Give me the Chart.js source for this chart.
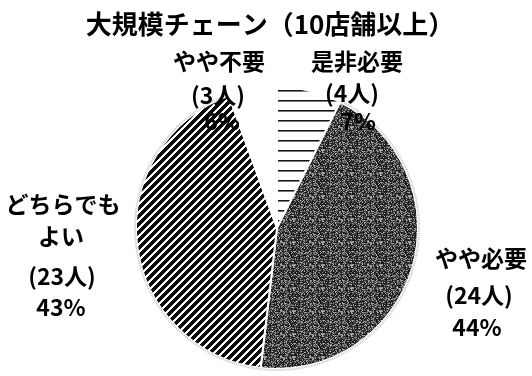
<!DOCTYPE html>
<html>
<head>
<meta charset="utf-8">
<script src="https://cdn.jsdelivr.net/npm/chart.js@4/dist/chart.umd.min.js"></script>
<style>
  html, body { margin: 0; padding: 0; background: #fff; }
  #wrap { width: 532px; height: 376px; }
</style>
</head>
<body>
<div id="wrap"><canvas id="c" width="532" height="376"></canvas></div>
<script>
// ---- data ----
const chartTitle = '大規模チェーン（10店舗以上）';
const categories = ['是非必要', 'やや必要', 'どちらでもよい', 'やや不要'];
const nameLines = [['是非必要'], ['やや必要'], ['どちらでも', 'よい'], ['やや不要']];
const counts = [4, 24, 23, 3];
const percents = [7, 44, 43, 6];

// ---- label placement (offsets from pie centre, px) ----
const labelLayout = [
  { x: [80, 75, 81],             y: [-167, -135, -107] },
  { x: [204, 202, 200],          y: [30, 67, 99] },
  { x: [-214, -216, -215, -216], y: [-24, 8, 48, 79] },
  { x: [-58, -59, -55],          y: [-167, -133, -107] }
];

// ---- fill patterns (texture only) ----
function makePattern(w, h, fn) {
  const c = document.createElement('canvas');
  c.width = w; c.height = h;
  const g = c.getContext('2d');
  const img = g.createImageData(w, h);
  for (let y = 0; y < h; y++) {
    for (let x = 0; x < w; x++) {
      const v = fn(x, y);
      const i = (y * w + x) * 4;
      img.data[i] = img.data[i + 1] = img.data[i + 2] = v;
      img.data[i + 3] = 255;
    }
  }
  g.putImageData(img, 0, 0);
  return g.createPattern(c, 'repeat');
}
function hash(x, y) {
  let n = x * 374761393 + y * 668265263;
  n = (n ^ (n >>> 13)) * 1274126177;
  n = n ^ (n >>> 16);
  return ((n >>> 0) % 1000) / 1000;
}
const hStripes = makePattern(4, 10, (x, y) => (y === 0 ? 20 : (y === 1 ? 120 : 255)));
const stipple = makePattern(29, 23, (x, y) => {
  const h = hash(x, y);
  return h < 0.6 ? Math.round(15 + h * 70) : Math.round(60 + (h - 0.6) * 330);
});
const dStripes = makePattern(8, 8, (x, y) => ((x + y) % 8 < 5 ? 10 : 255));
const fills = [hStripes, stipple, dStripes, '#ffffff'];

const labelPlugin = {
  id: 'labels',
  afterDatasetsDraw(chart) {
    const ctx = chart.ctx;
    const meta = chart.getDatasetMeta(0);
    const arc0 = meta.data[0];
    const cx = arc0.x, cy = arc0.y;
    ctx.save();
    // soft grey edge on the shaded slices
    ctx.strokeStyle = 'rgba(150,150,150,0.55)';
    ctx.lineWidth = 2;
    ctx.setLineDash([1, 1]);
    [1, 2].forEach(i => {
      const a = meta.data[i];
      ctx.beginPath();
      ctx.arc(cx, cy, a.outerRadius + 1, a.startAngle, a.endAngle);
      ctx.stroke();
    });
    ctx.setLineDash([]);
    // title
    ctx.fillStyle = '#000';
    ctx.textAlign = 'center';
    ctx.textBaseline = 'middle';
    ctx.font = 'bold 26px "Noto Sans CJK JP", sans-serif';
    ctx.fillText(chartTitle, chart.width / 2 + 4, 24);
    // slice labels
    ctx.font = 'bold 23px "Noto Sans CJK JP", sans-serif';
    categories.forEach((cat, i) => {
      const lines = nameLines[i].concat(['(' + counts[i] + '人)', percents[i] + '%']);
      const L = labelLayout[i];
      lines.forEach((t, j) => {
        ctx.fillText(t, cx + L.x[j], cy + L.y[j]);
      });
    });
    ctx.restore();
  }
};

new Chart(document.getElementById('c'), {
  type: 'pie',
  data: {
    labels: categories,
    datasets: [{
      data: counts,
      backgroundColor: fills,
      borderColor: '#ffffff',
      borderWidth: 2
    }]
  },
  options: {
    responsive: false,
    animation: false,
    devicePixelRatio: 1,
    layout: { padding: { left: 135, right: 113, top: 86, bottom: 6 } },
    plugins: {
      legend: { display: false },
      tooltip: { enabled: false },
      title: { display: false }
    }
  },
  plugins: [labelPlugin]
});
</script>
</body>
</html>
